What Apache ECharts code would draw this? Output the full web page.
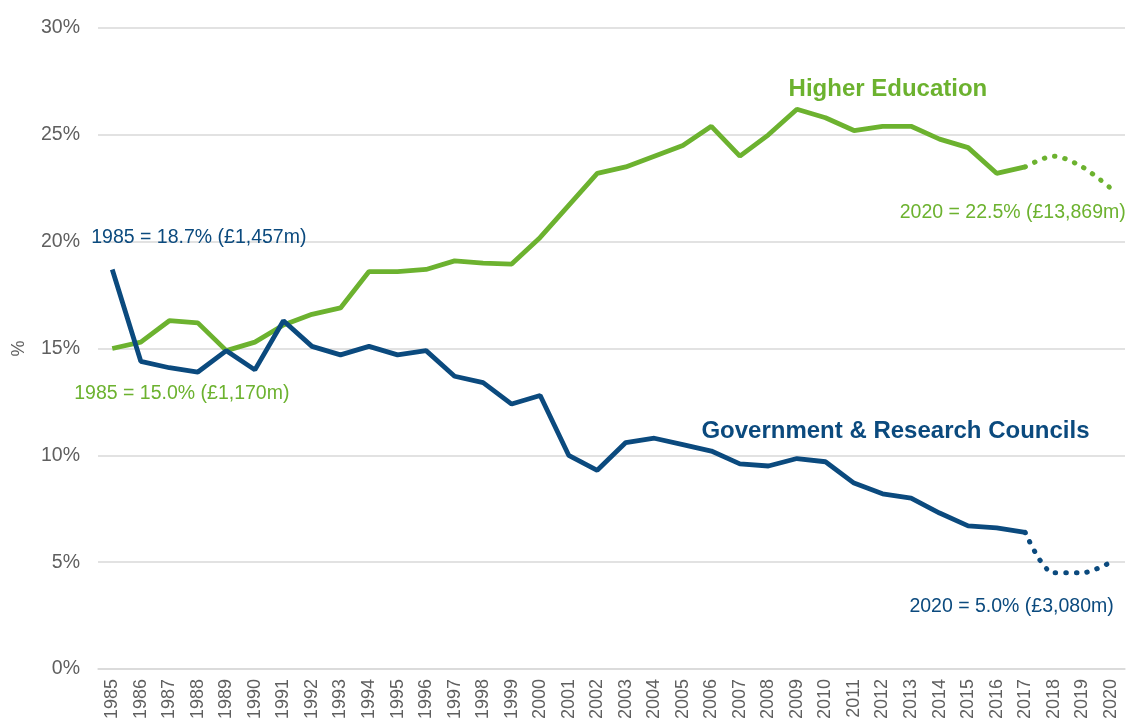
<!DOCTYPE html>
<html>
<head>
<meta charset="utf-8">
<script src="https://cdn.jsdelivr.net/npm/echarts@6/dist/echarts.min.js"></script>
<style>html,body{margin:0;padding:0;background:#fff;}#c{width:1128px;height:725px;}</style>
</head>
<body>
<div id="c"></div>
<script>
var years = ['1985','1986','1987','1988','1989','1990','1991','1992','1993','1994','1995','1996','1997','1998','1999','2000','2001','2002','2003','2004','2005','2006','2007','2008','2009','2010','2011','2012','2013','2014','2015','2016','2017','2018','2019','2020'];
var higherEd = [15.0,15.3,16.3,16.2,14.9,15.3,16.1,16.6,16.9,18.6,18.6,18.7,19.1,19.0,18.95,20.2,21.7,23.2,23.5,24.0,24.5,25.4,24.0,25.0,26.2,25.8,25.2,25.4,25.4,24.8,24.4,23.2,23.5,24.0,23.5,22.5];
var govRes = [18.7,14.4,14.1,13.9,14.9,14.0,16.3,15.1,14.7,15.1,14.7,14.9,13.7,13.4,12.4,12.8,10.0,9.3,10.6,10.8,10.5,10.2,9.6,9.5,9.85,9.7,8.7,8.2,8.0,7.3,6.7,6.6,6.4,4.5,4.5,5.0];
var yTicks = [0,5,10,15,20,25,30];
var lastActual = 32; // index of 2017

function solidPart(arr){ return arr.map(function(v,i){ return i<=lastActual ? v : null; }); }
function dottedPart(arr){ return arr.map(function(v,i){ return i>=lastActual ? v : null; }); }

var GREEN = '#6cb22f';
var BLUE = '#0b4a7e';
var GRAY = '#5f5f5f';
var FONT = '"Liberation Sans", Arial, sans-serif';

var chart = echarts.init(document.getElementById('c'), null, {renderer:'canvas'});
var dotStyle = function(c){ return {color:c, width:5, type:[0.5,10], cap:'round'}; };

chart.setOption({
  animation:false,
  textStyle:{fontFamily:FONT},
  grid:{left:98, right:3, top:28, bottom:56, containLabel:false},
  xAxis:{
    type:'category', data:years, boundaryGap:true,
    axisLine:{lineStyle:{color:'#d9d9d9', width:1.5}},
    axisTick:{show:false},
    axisLabel:{rotate:90, color:GRAY, fontSize:18, margin:10, interval:0, fontFamily:FONT}
  },
  yAxis:{
    type:'value', min:yTicks[0], max:yTicks[yTicks.length-1], interval:5,
    name:'%', nameLocation:'middle', nameGap:70, nameRotate:90,
    nameTextStyle:{color:GRAY, fontSize:18, fontFamily:FONT},
    axisLine:{show:false}, axisTick:{show:false},
    axisLabel:{color:GRAY, fontSize:19.5, margin:18, formatter:'{value}%', fontFamily:FONT},
    splitLine:{lineStyle:{color:'#d9d9d9', width:1.5}}
  },
  series:[
    {name:'Higher Education', type:'line', data:solidPart(higherEd), symbol:'none', lineStyle:{color:GREEN, width:4.8}, z:3},
    {name:'Higher Education (est)', type:'line', data:dottedPart(higherEd), symbol:'none', smooth:0.3, lineStyle:dotStyle(GREEN), z:3},
    {name:'Government & Research Councils', type:'line', data:solidPart(govRes), symbol:'none', lineStyle:{color:BLUE, width:4.8}, z:4},
    {name:'Government & Research Councils (est)', type:'line', data:dottedPart(govRes), symbol:'none', smooth:0.3, lineStyle:dotStyle(BLUE), z:4}
  ]
});

function px(cat, val){ return chart.convertToPixel({gridIndex:0}, [cat, val]); }
function txt(p, dx, dy, text, color, size, bold, align){
  return {type:'text', x:p[0]+dx, y:p[1]+dy, z:10,
    style:{text:text, fill:color, font:(bold?'bold ':'')+size+'px '+FONT, align:align||'left', verticalAlign:'middle'}};
}
var n = years.length-1;
chart.setOption({graphic:[
  txt(px('1985', govRes[0]), -21, -32, '1985 = 18.7% (£1,457m)', BLUE, 19.5, false),
  txt(px('1985', higherEd[0]), -38, 45, '1985 = 15.0% (£1,170m)', GREEN, 19.5, false),
  txt(px('2009', higherEd[24]), 91, -20, 'Higher Education', GREEN, 24, true, 'center'),
  txt(px(years[n], higherEd[n]), 15, 24, '2020 = 22.5% (£13,869m)', GREEN, 19.5, false, 'right'),
  txt(px('2010', govRes[25]), 70, -30, 'Government & Research Councils', BLUE, 24, true, 'center'),
  txt(px(years[n], govRes[n]), 3, 44, '2020 = 5.0% (£3,080m)', BLUE, 19.5, false, 'right')
]});
</script>
</body>
</html>
